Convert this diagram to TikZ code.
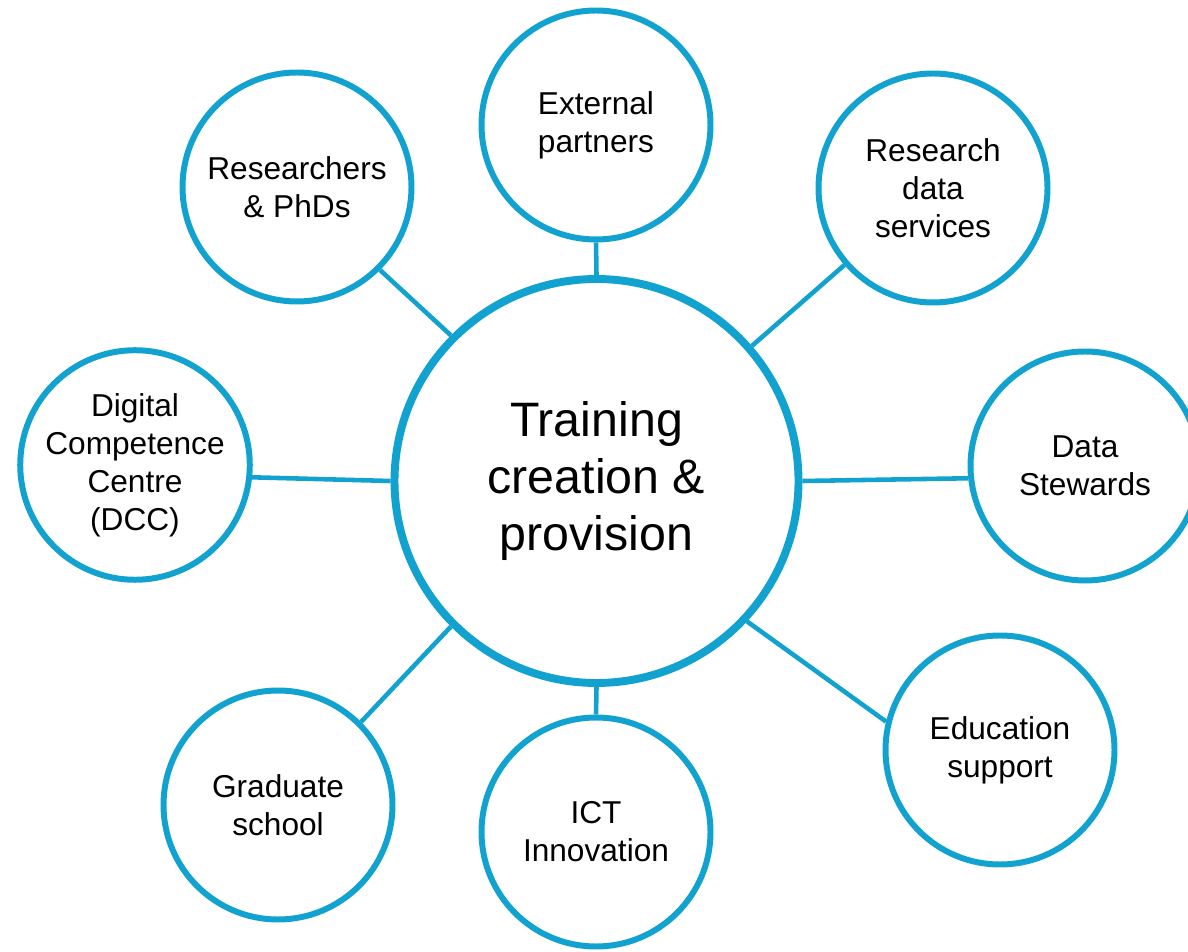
\documentclass[tikz,border=0pt]{standalone}
\usepackage{fontspec}
\setmainfont{Liberation Sans}
\definecolor{ringblue}{RGB}{18,162,208}
\begin{document}
\begin{tikzpicture}[
  hub/.style={circle,draw=ringblue,line width=4.5pt,fill=white,minimum size=8.08cm,
    align=center,font=\fontsize{27.5}{32.4}\selectfont},
  spoke/.style={circle,draw=ringblue,line width=3.4pt,fill=white,minimum size=4.58cm,
    inner sep=0pt,align=center,font=\fontsize{18}{21.6}\selectfont},
  link/.style={draw=ringblue,line width=2.6pt}]
\useasboundingbox (0,0) rectangle (23.76,19.02);

% Centre
\node[hub] (main) at (11.93,9.40) {Training\\creation \&\\provision};

% Surrounding groups
\node[spoke] (ext) at (11.92,16.52) {External\\partners};
\node[spoke] (res) at (5.94,15.28) {Researchers\\\& PhDs};
\node[spoke] (rds) at (18.66,15.26) {Research\\data\\services};
\node[spoke] (stw) at (21.70,9.70) {Data\\Stewards};
\node[spoke] (edu) at (20.00,4.02) {Education\\support};
\node[spoke] (ict) at (11.92,2.38) {ICT\\Innovation};
\node[spoke] (grad) at (5.56,2.92) {Graduate\\school};
\node[spoke] (dcc) at (2.70,9.72) {Digital\\Competence\\Centre\\(DCC)};

% Links
\draw[link] (main.90) -- (ext.-90);
\draw[link] (main.135) -- (res.-45);
\draw[link] (main.41) -- (rds.221);
\draw[link] (main.0) -- (stw.186);
\draw[link] (main.-43) -- (edu.166);
\draw[link] (main.-90) -- (ict.90);
\draw[link] (main.-135) -- (grad.45);
\draw[link] (main.180) -- (dcc.-6);
\end{tikzpicture}
\end{document}
